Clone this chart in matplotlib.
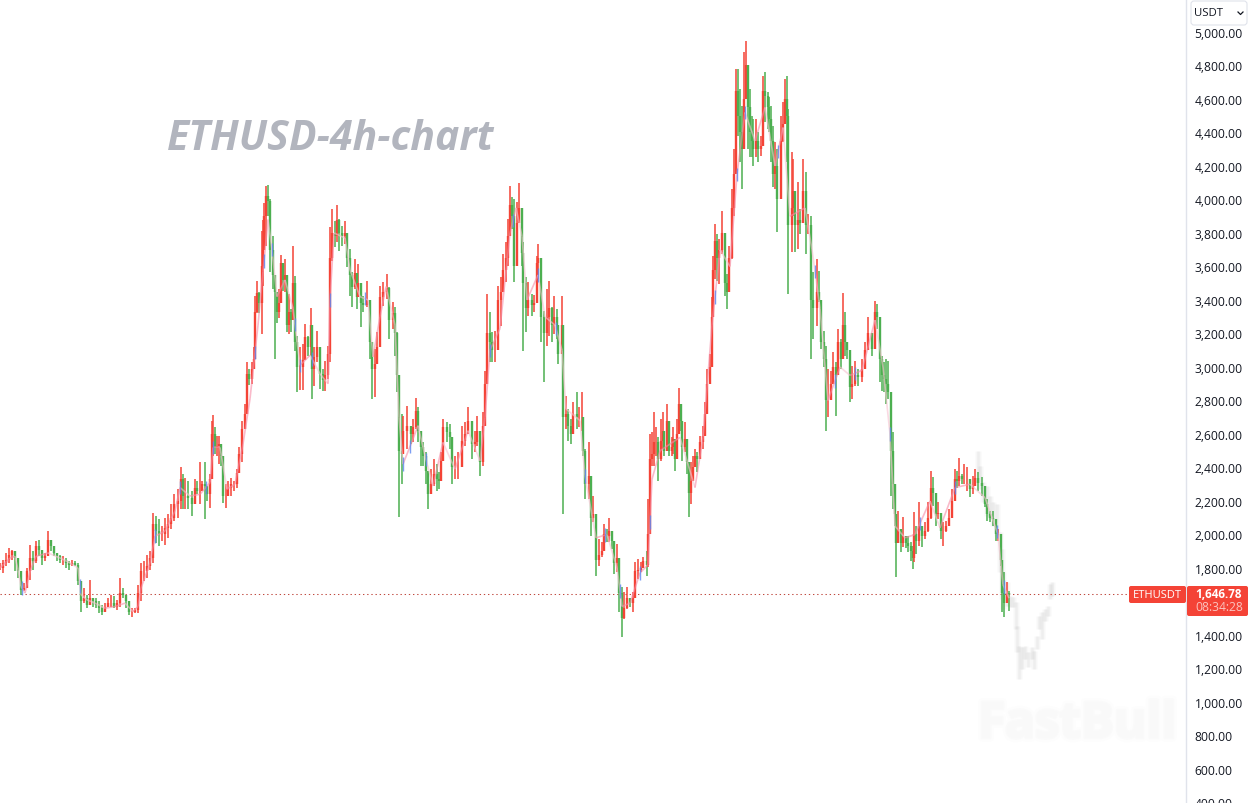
import matplotlib
matplotlib.use("Agg")
import matplotlib.pyplot as plt
import matplotlib.patheffects as pe
import numpy as np
from matplotlib.collections import LineCollection
from matplotlib.patches import FancyBboxPatch, Rectangle

# 4h candles: candle position, high, low, close (open is the previous close)
candle_no = [
    0, 3, 6, 9, 12, 15, 18, 21, 24, 27,
    30, 33, 36, 39, 42, 45, 48, 51, 54, 57,
    60, 63, 66, 69, 72, 75, 78, 81, 84, 87,
    90, 93, 96, 99, 102, 105, 108, 111, 114, 117,
    120, 123, 126, 129, 132, 135, 138, 141, 144, 147,
    150, 153, 156, 159, 162, 165, 168, 171, 174, 178,
    181, 183, 185, 188, 192, 195, 197, 200, 202, 205,
    207, 210, 212, 213, 215, 217, 219, 221, 223, 226,
    228, 231, 234, 237, 239, 242, 245, 247, 249, 252,
    254, 255, 257, 259, 262, 263, 264, 266, 268, 270,
    273, 275, 277, 279, 281, 283, 285, 287, 289, 291,
    293, 295, 297, 300, 303, 305, 308, 311, 312, 314,
    317, 320, 323, 325, 328, 330, 332, 335, 337, 339,
    342, 345, 347, 350, 352, 355, 357, 358, 361, 363,
    367, 370, 372, 375, 377, 380, 383, 387, 389, 393,
    395, 397, 399, 402, 403, 407, 411, 413, 416, 418,
    421, 423, 426, 428, 431, 434, 437, 439, 441, 443,
    447, 450, 452, 455, 458, 462, 465, 468, 472, 475,
    477, 480, 483, 485, 487, 490, 492, 495, 498, 501,
    503, 506, 508, 510, 512, 514, 517, 519, 522, 523,
    526, 528, 532, 534, 537, 538, 541, 544, 547, 549,
    552, 554, 557, 558, 562, 563, 566, 568, 571, 573,
    577, 579, 582, 583, 585, 589, 591, 593, 596, 599,
    602, 604, 607, 609, 612, 614, 617, 619, 622, 624,
    627, 630, 633, 635, 638, 641, 643, 647, 648, 650,
    652, 654, 656, 658, 661, 663, 664, 667, 669, 672,
    673, 675, 677, 679, 681, 682, 685, 687, 689, 691,
    693, 695, 697, 700, 703, 705, 707, 710, 712, 713,
    715, 717, 719, 722, 725, 727, 729, 732, 734, 736,
    738, 740, 742, 744, 746, 748, 750, 752, 753, 756,
    758, 761, 763, 765, 768, 769, 771, 773, 775, 777,
    781, 783, 785, 787, 788, 792, 793, 795, 798, 800,
    803, 806, 808, 811, 813, 817, 819, 821, 824, 826,
    828, 831, 833, 836, 838, 841, 843, 845, 847, 850,
    852, 855, 858, 862, 865, 868, 872, 875, 877, 880,
    882, 884, 886, 888, 891, 893, 895, 896, 898, 901,
    903, 906, 908, 911, 913, 914, 916, 919, 922, 925,
    928, 931, 933, 936, 938, 941, 943, 946, 949, 952,
    955, 957, 959, 962, 964, 967, 970, 973, 975, 978,
    982, 985, 987, 990, 993, 996, 998, 1001, 1002, 1004,
    1007, 1009,
]
highs = [
    1830, 1850, 1890, 1920, 1910, 1900, 1860, 1760, 1710, 1800,
    1940, 1900, 1960, 1970, 1900, 1890, 2020, 1960, 1930, 1890,
    1880, 1870, 1860, 1840, 1850, 1840, 1830, 1720, 1680, 1640,
    1730, 1620, 1620, 1600, 1580, 1590, 1620, 1640, 1630, 1610,
    1740, 1680, 1640, 1590, 1560, 1560, 1700, 1830, 1840, 1880,
    1900, 2130, 2110, 2090, 2050, 2100, 2120, 2180, 2240, 2270,
    2400, 2360, 2340, 2320, 2260, 2330, 2320, 2435, 2320, 2430,
    2290, 2360, 2680, 2712, 2640, 2590, 2590, 2500, 2460, 2300,
    2320, 2340, 2320, 2390, 2520, 2680, 2780, 3030, 2990, 3030,
    3120, 3425, 3515, 3445, 3813, 3880, 3980, 4082, 4086, 4000,
    3780, 3545, 3445, 3465, 3668, 3605, 3645, 3495, 3435, 3345,
    3720, 3546, 3188, 3118, 3140, 3257, 3188, 3350, 3217, 3118,
    3217, 3048, 2988, 3038, 3128, 3834, 3944, 3874, 3967, 3884,
    3840, 3874, 3765, 3705, 3565, 3645, 3536, 3615, 3466, 3426,
    3516, 3386, 3108, 3108, 3207, 3486, 3506, 3555, 3480, 3386,
    3356, 3207, 2849, 2720, 2710, 2770, 2650, 2690, 2813, 2760,
    2590, 2550, 2491, 2371, 2391, 2451, 2421, 2371, 2491, 2690,
    2670, 2660, 2550, 2471, 2491, 2650, 2670, 2760, 2630, 2620,
    2710, 2530, 2730, 2978, 3436, 3327, 3207, 3217, 3485, 3535,
    3674, 3744, 3883, 4078, 4012, 4002, 3983, 4098, 3923, 3744,
    3535, 3505, 3435, 3430, 3664, 3734, 3445, 3336, 3465, 3515,
    3356, 3425, 3346, 3226, 3425, 2878, 2829, 2749, 2689, 2789,
    2848, 2759, 2848, 2659, 2510, 2550, 2311, 2231, 1953, 1973,
    1953, 2062, 2032, 2096, 2003, 1903, 1943, 1824, 1684, 1654,
    1684, 1615, 1654, 1833, 1853, 1833, 1863, 1903, 2212, 2600,
    2610, 2729, 2640, 2580, 2689, 2729, 2570, 2779, 2550, 2580,
    2640, 2540, 2689, 2872, 2780, 2630, 2669, 2560, 2430, 2430,
    2470, 2510, 2490, 2590, 2649, 2789, 2988, 3077, 3415, 3664,
    3853, 3794, 3764, 3929, 3724, 3555, 3724, 4062, 4300, 4779,
    4779, 4660, 4560, 4879, 4948, 4779, 4660, 4500, 4481, 4481,
    4401, 4381, 4739, 4759, 4640, 4610, 4560, 4441, 4341, 4300,
    4500, 4580, 4720, 4739, 4540, 4281, 4240, 4023, 4102, 3943,
    4242, 4162, 3913, 3903, 3565, 3645, 3575, 3366, 3217, 3127,
    2988, 2978, 3087, 3028, 3227, 3167, 3442, 3326, 3147, 3067,
    3008, 3038, 2988, 3048, 3147, 3296, 3167, 3396, 3376, 3276,
    3067, 3028, 3048, 3038, 2809, 2610, 2292, 2073, 2142, 2033,
    2102, 1990, 1993, 1953, 1933, 2132, 2053, 2192, 2053, 2073,
    2192, 2381, 2341, 2192, 2192, 2073, 2073, 2083, 2152, 2272,
    2391, 2380, 2455, 2361, 2421, 2401, 2321, 2351, 2391, 2371,
    2341, 2252, 2212, 2142, 2142, 2053, 2033, 2003, 1834, 1774,
    1714, 1665,
]
lows = [
    1790, 1770, 1810, 1830, 1850, 1780, 1740, 1640, 1660, 1680,
    1730, 1790, 1830, 1870, 1820, 1840, 1870, 1900, 1870, 1840,
    1830, 1820, 1800, 1790, 1810, 1810, 1700, 1540, 1590, 1560,
    1600, 1570, 1560, 1530, 1520, 1540, 1570, 1570, 1560, 1550,
    1570, 1620, 1560, 1520, 1510, 1530, 1530, 1600, 1720, 1740,
    1790, 1830, 1950, 1930, 1960, 1940, 1980, 2030, 2080, 2100,
    2150, 2152, 2150, 2152, 2112, 2210, 2240, 2180, 2260, 2092,
    2200, 2160, 2370, 2470, 2480, 2470, 2420, 2410, 2190, 2160,
    2250, 2230, 2260, 2280, 2370, 2430, 2650, 2850, 2890, 2900,
    2990, 3190, 3325, 3325, 3197, 3485, 3720, 3720, 3900, 3565,
    3465, 3050, 3265, 3295, 3465, 3455, 3445, 3207, 3197, 3207,
    3406, 3098, 2850, 2860, 2860, 3088, 3068, 3068, 2810, 2889,
    3028, 2869, 2859, 2859, 2929, 3028, 3635, 3715, 3745, 3695,
    3720, 3735, 3595, 3426, 3356, 3466, 3346, 3446, 3237, 3327,
    3356, 3048, 2809, 2819, 3028, 3267, 3366, 3406, 3170, 3227,
    3068, 2849, 2103, 2302, 2511, 2511, 2540, 2550, 2630, 2550,
    2411, 2411, 2302, 2153, 2262, 2292, 2262, 2272, 2352, 2550,
    2550, 2511, 2302, 2332, 2332, 2411, 2530, 2630, 2451, 2491,
    2530, 2352, 2411, 2670, 3008, 3028, 3028, 3027, 3296, 3246,
    3485, 3505, 3605, 3784, 3823, 3505, 3784, 3873, 3605, 3097,
    3207, 3306, 3306, 3330, 3525, 3525, 3147, 2912, 3127, 3187,
    3147, 3197, 3167, 3017, 3087, 2122, 2630, 2560, 2540, 2669,
    2630, 2640, 2620, 2470, 2212, 2212, 1993, 2072, 1754, 1814,
    1863, 1913, 1953, 1953, 1913, 1764, 1774, 1535, 1386, 1495,
    1555, 1565, 1535, 1684, 1734, 1774, 1804, 1754, 1804, 2291,
    2410, 2410, 2470, 2321, 2440, 2510, 2470, 2540, 2470, 2470,
    2480, 2380, 2480, 2610, 2620, 2440, 2490, 2360, 2102, 2182,
    2360, 2430, 2371, 2480, 2510, 2610, 2729, 2928, 3087, 3445,
    3525, 3515, 3495, 3674, 3426, 3346, 3555, 3644, 3900, 4500,
    4380, 4222, 4063, 4341, 4600, 4300, 4252, 4252, 4202, 4252,
    4222, 4262, 4441, 4461, 4421, 4400, 4222, 4073, 4063, 3804,
    4222, 4341, 4480, 4222, 3436, 3684, 3900, 3684, 3704, 3794,
    3864, 3674, 3794, 3048, 3167, 3247, 3386, 3107, 2998, 2620,
    2699, 2809, 2928, 2709, 2968, 2988, 3067, 3067, 3048, 2789,
    2809, 2888, 2888, 2908, 3048, 3107, 3067, 3207, 3227, 2908,
    2858, 2849, 2779, 2809, 2232, 2152, 2053, 1744, 1973, 1893,
    1923, 1920, 1893, 1844, 1794, 1834, 1884, 1933, 1923, 1973,
    2013, 2093, 2172, 2053, 2093, 1973, 1933, 2013, 2053, 2113,
    2212, 2280, 2292, 2302, 2302, 2262, 2222, 2242, 2292, 2262,
    2232, 2162, 2083, 2073, 2053, 1963, 1963, 1814, 1535, 1506,
    1615, 1545,
]
closes = [
    1800, 1830, 1850, 1880, 1900, 1860, 1780, 1670, 1680, 1780,
    1860, 1840, 1930, 1910, 1860, 1870, 1970, 1930, 1890, 1870,
    1850, 1850, 1830, 1820, 1830, 1820, 1720, 1600, 1620, 1580,
    1620, 1600, 1580, 1560, 1540, 1570, 1590, 1590, 1570, 1590,
    1650, 1640, 1600, 1540, 1540, 1550, 1650, 1780, 1780, 1810,
    1860, 2060, 2020, 2000, 2000, 2040, 2060, 2100, 2180, 2200,
    2330, 2230, 2230, 2220, 2180, 2280, 2260, 2260, 2300, 2290,
    2240, 2330, 2600, 2600, 2520, 2530, 2540, 2470, 2230, 2230,
    2280, 2300, 2300, 2370, 2480, 2630, 2720, 2960, 2930, 2990,
    3050, 3330, 3440, 3380, 3600, 3700, 3900, 4020, 3990, 3700,
    3550, 3450, 3330, 3380, 3620, 3520, 3550, 3250, 3330, 3280,
    3500, 3150, 3000, 3000, 3040, 3180, 3120, 3250, 2990, 3060,
    3120, 2960, 2920, 2950, 3080, 3650, 3800, 3780, 3880, 3800,
    3780, 3800, 3650, 3550, 3480, 3560, 3420, 3500, 3380, 3370,
    3400, 3150, 2990, 3020, 3120, 3420, 3450, 3470, 3280, 3320,
    3200, 2950, 2500, 2480, 2620, 2650, 2600, 2640, 2740, 2620,
    2520, 2470, 2380, 2240, 2300, 2360, 2330, 2320, 2440, 2640,
    2610, 2580, 2400, 2400, 2400, 2560, 2600, 2680, 2540, 2550,
    2620, 2430, 2650, 2900, 3200, 3150, 3100, 3100, 3400, 3450,
    3580, 3650, 3780, 3970, 3900, 3600, 3860, 3950, 3680, 3500,
    3350, 3400, 3370, 3380, 3620, 3650, 3300, 3200, 3300, 3350,
    3250, 3300, 3250, 3080, 3250, 2700, 2720, 2650, 2600, 2720,
    2700, 2700, 2700, 2500, 2300, 2350, 2100, 2120, 1850, 1880,
    1900, 2000, 1990, 2020, 1960, 1830, 1860, 1650, 1500, 1560,
    1620, 1590, 1620, 1780, 1790, 1800, 1840, 1820, 2000, 2450,
    2480, 2550, 2550, 2450, 2560, 2620, 2500, 2680, 2500, 2520,
    2570, 2450, 2600, 2780, 2680, 2520, 2570, 2430, 2250, 2320,
    2400, 2470, 2450, 2550, 2590, 2720, 2900, 3000, 3300, 3580,
    3750, 3650, 3700, 3800, 3500, 3450, 3650, 3950, 4150, 4650,
    4500, 4400, 4300, 4600, 4800, 4550, 4400, 4350, 4300, 4350,
    4300, 4320, 4650, 4620, 4550, 4480, 4350, 4150, 4200, 4000,
    4350, 4450, 4600, 4500, 3850, 3950, 4050, 3850, 3880, 3860,
    4050, 3850, 3850, 3400, 3350, 3450, 3400, 3150, 3050, 2800,
    2800, 2900, 3000, 2950, 3150, 3050, 3250, 3150, 3100, 2880,
    2900, 2950, 2940, 2990, 3100, 3200, 3110, 3330, 3300, 3050,
    2950, 2930, 2900, 2850, 2500, 2300, 2120, 1950, 2030, 1950,
    1990, 1950, 1930, 1900, 1860, 2000, 1960, 2050, 1990, 2020,
    2100, 2280, 2250, 2120, 2130, 2020, 2020, 2050, 2100, 2200,
    2330, 2320, 2350, 2330, 2330, 2330, 2270, 2290, 2340, 2310,
    2290, 2180, 2120, 2100, 2090, 2000, 2000, 1850, 1650, 1590,
    1650, 1646.78,
]

# moving average ribbon drawn over the candles
ma_no = [
    0, 10, 15, 18, 21, 25, 30, 36, 42, 48, 60, 70, 78, 81, 87, 95, 105, 115, 125, 133,
    138, 141, 150, 155, 165, 175, 180, 190, 200, 210, 213, 220, 227, 235, 243, 250, 258, 263, 268, 272,
    277, 285, 293, 300, 310, 320, 328, 330, 334, 345, 350, 360, 368, 373, 380, 386, 395, 399, 403, 413,
    418, 425, 433, 443, 455, 468, 480, 485, 490, 500, 510, 516, 522, 527, 538, 545, 555, 562, 566, 580,
    585, 596, 607, 617, 622, 630, 640, 648, 652, 660, 680, 695, 703, 712, 720, 730, 737, 745, 755, 765,
    775, 783, 790, 805, 812, 820, 828, 840, 850, 862, 875, 883, 890, 895, 905, 915, 930, 940, 955, 970,
    985, 998, 1003, 1009,
]
ma_values = [
    1800, 1860, 1870, 1790, 1690, 1650, 1780, 1870, 1880, 1890, 1860, 1830, 1800, 1640, 1610, 1590, 1560, 1570, 1590, 1540,
    1570, 1680, 1830, 1990, 2020, 2140, 2280, 2230, 2240, 2310, 2520, 2520, 2270, 2300, 2540, 2810, 3250, 3570, 3880, 3700,
    3420, 3520, 3350, 3010, 3070, 2960, 2900, 3400, 3800, 3770, 3580, 3420, 3400, 3060, 3300, 3480, 3250, 2700, 2420, 2570,
    2650, 2470, 2290, 2550, 2390, 2620, 2440, 2700, 3100, 3230, 3800, 3950, 3780, 3400, 3550, 3300, 3250, 3100, 2750, 2680,
    2350, 1980, 2000, 1800, 1570, 1590, 1770, 1820, 2330, 2500, 2580, 2280, 2580, 3250, 3700, 3600, 4150, 4520, 4350, 4550,
    4200, 4430, 3900, 3950, 3700, 3350, 2800, 3000, 2950, 2980, 3280, 3000, 2600, 2050, 1980, 2000, 2200, 2040, 2280, 2300,
    2220, 2000, 1700, 1620,
]
# candles where the ribbon flips colour and shows its blue core
ma_flip_no = [22, 80, 155, 180, 206, 213, 255, 264, 272, 295, 300, 312, 330, 365, 403, 410, 426, 490,
              513, 538, 556, 585, 605, 620, 640, 650, 715, 737, 745, 778, 815, 835, 855, 890, 920, 955, 997, 1004]

# faded projection continuing past the last candle
proj_no = [978, 980, 983, 987, 990, 993, 997, 1000, 1002, 1003, 1007, 1010, 1013, 1016,
           1017, 1019, 1022, 1025, 1028, 1032, 1034, 1037, 1039, 1042, 1045, 1048, 1050, 1052]
proj_high = [2500, 2410, 2311, 2291, 2232, 2192, 2182, 2013, 1913, 1774, 1714, 1635, 1625, 1595,
             1456, 1336, 1326, 1336, 1296, 1326, 1306, 1396, 1515, 1535, 1555, 1575, 1704, 1714]
proj_low = [2311, 2271, 2192, 2112, 2092, 2053, 1993, 1774, 1615, 1555, 1575, 1565, 1565, 1436,
            1296, 1137, 1197, 1257, 1207, 1257, 1197, 1316, 1436, 1376, 1485, 1515, 1615, 1635]

last_price = 1646.78
price_ticks = list(range(400, 5001, 200))

UP = "#f44336"
DOWN = "#4caf50"

fig = plt.figure(figsize=(12.49, 8.04), dpi=100)
ax = fig.add_axes([0, 0, 1186 / 1249, 1])
ax.set_xlim(0, 1186)
ax.set_ylim(397, 5197)

# price scale on the right
ax.yaxis.tick_right()
ax.set_yticks(price_ticks)
ax.set_yticklabels([f"{p:,.2f}" for p in price_ticks], fontsize=8.7, family="Open Sans", color="#131722")
ax.tick_params(axis="y", length=0, pad=6.2)
ax.set_xticks([])
for side in ["top", "left", "bottom"]:
    ax.spines[side].set_visible(False)
ax.spines["right"].set_color("#e0e3eb")
ax.spines["right"].set_linewidth(1.0)

# projection first so the real candles sit on top, stacked widths give it a soft edge
proj_segs = [[(x, l), (x, h)] for x, h, l in zip(proj_no, proj_high, proj_low)]
for width, alpha in [(5.0, 0.04), (3.4, 0.05), (1.8, 0.09)]:
    ax.add_collection(LineCollection(proj_segs, colors="#a8a8a8", linewidths=width, alpha=alpha, zorder=1))

ax.axhline(last_price, color="#c04a40", lw=0.75, ls=(0, (1.3, 2.7)), zorder=2)

# candles: thin wick, wider body
opens = [closes[0]] + closes[:-1]
colors = [UP if c >= o else DOWN for o, c in zip(opens, closes)]
wicks = [[(x, l), (x, h)] for x, h, l in zip(candle_no, highs, lows)]
bodies = [[(x, o), (x, c)] for x, o, c in zip(candle_no, opens, closes)]
ax.add_collection(LineCollection(wicks, colors=colors, linewidths=1.1, zorder=3))
ax.add_collection(LineCollection(bodies, colors=colors, linewidths=1.7, zorder=3))

# moving average, a stronger pink when rising
ma_segs, ma_cols = [], []
for i in range(len(ma_no) - 1):
    ma_segs.append([(ma_no[i], ma_values[i]), (ma_no[i + 1], ma_values[i + 1])])
    ma_cols.append("#f78da7" if ma_values[i + 1] >= ma_values[i] else "#f7c1d0")
ax.add_collection(LineCollection(ma_segs, colors=ma_cols, linewidths=1.2, alpha=0.6, zorder=4))

flip_mid = np.interp(ma_flip_no, ma_no, ma_values)
flip_segs = [[(x, y - 40), (x, y + 40)] for x, y in zip(ma_flip_no, flip_mid)]
ax.add_collection(LineCollection(flip_segs, colors="#5c86f0", linewidths=1.0, alpha=0.8, zorder=5))

# overlay in pixel coordinates for the text and boxes around the plot
ov = fig.add_axes([0, 0, 1, 1], facecolor="none")
ov.set_xlim(0, 1249)
ov.set_ylim(804, 0)
ov.axis("off")

ov.text(167, 139, "ETHUSD-4h-chart", fontsize=29.5, fontweight="bold", fontstyle="italic",
        family="Open Sans", color="#b2b5be", va="center", ha="left")

wm = ov.text(978, 726, "FastBull", fontsize=35.5, fontweight="bold", family="Open Sans",
             color="#f9f9f9", va="center", ha="left")
wm.set_path_effects([pe.withStroke(linewidth=6, foreground="#fdfdfd"),
                     pe.withStroke(linewidth=2.5, foreground="#fafafa")])

# currency selector, it hides the top of the first scale label
ov.add_patch(Rectangle((1188, 0), 61, 29, fc="white", ec="none", zorder=5))
ov.add_patch(FancyBboxPatch((1191, 2), 56, 24, boxstyle="round,pad=0,rounding_size=3",
                            fc="white", ec="#e0e3eb", lw=0.8, zorder=6))
ov.text(1194, 14, "USDT", fontsize=8.2, family="Open Sans", color="#131722", va="center", zorder=7)
ov.plot([1238, 1240.5, 1243], [13, 15.5, 13], color="#131722", lw=0.9, zorder=7)

# last price tags
ov.add_patch(FancyBboxPatch((1129, 587), 57, 17, boxstyle="round,pad=0,rounding_size=2",
                            fc=UP, ec="none", zorder=5))
ov.text(1157.5, 595.5, "ETHUSDT", fontsize=8, family="Open Sans", color="white",
        ha="center", va="center", zorder=6)
ov.add_patch(FancyBboxPatch((1187, 587), 61, 30, boxstyle="round,pad=0,rounding_size=2",
                            fc=UP, ec="none", zorder=5))
ov.text(1195, 594.5, f"{last_price:,.2f}", fontsize=8.4, fontweight="bold", family="Open Sans",
        color="white", va="center", zorder=6)
ov.text(1195, 608, "08:34:28", fontsize=8.7, family="Open Sans", color="#fbc4bf", va="center", zorder=6)

fig.savefig("out.png", dpi=100, facecolor="white")
